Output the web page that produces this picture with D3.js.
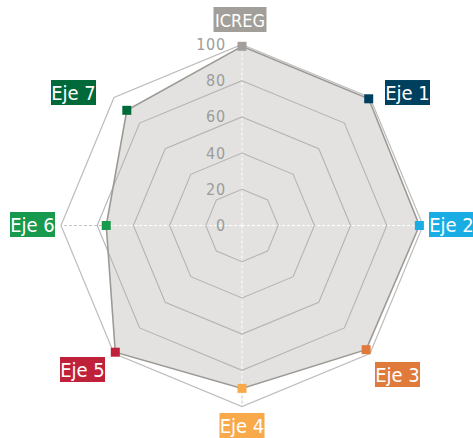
<!DOCTYPE html>
<html><head><meta charset="utf-8">
<script src="https://cdn.jsdelivr.net/npm/d3@7"></script>
<style>body{margin:0;background:#fff}svg{display:block}</style>
</head><body>
<svg id="c" width="473" height="438"></svg>
<script>
const axesLabels = ["ICREG","Eje 1","Eje 2","Eje 3","Eje 4","Eje 5","Eje 6","Eje 7"];
const values = [99, 99, 98, 97, 90, 99, 75, 90];
const axisColors = ["#a29f9a","#00405f","#19ade3","#e07a3b","#f8aa4b","#c0213a","#17994e","#00693a"];
const tickValues = [0, 20, 40, 60, 80, 100];

const svg = d3.select("#c");
const cx = 242, cy = 225.5, R = 181;
const font = "'Liberation Sans Narrow','DejaVu Sans Condensed','Open Sans',sans-serif";
const r = d3.scaleLinear().domain([0,100]).range([0,R]);
const ang = d3.scaleLinear().domain([0, axesLabels.length]).range([0, 2*Math.PI]);
const pt = (i, v) => [cx + r(v)*Math.sin(ang(i)), cy - r(v)*Math.cos(ang(i))];
const idx = d3.range(axesLabels.length);
const crossIdx = idx.filter(i => i % 2 === 0);
const ring = v => idx.map(i => pt(i, v));
const line = d3.line().curve(d3.curveLinearClosed);

// outer ring (100), under the data
svg.append("path").attr("d", line(ring(100))).attr("fill","none").attr("stroke","#bdbdbd").attr("stroke-width",1.2);
// cross axis lines (gray dashed)
svg.append("g").selectAll("line").data(crossIdx).join("line")
  .attr("x1",cx).attr("y1",cy).attr("x2",i=>pt(i,100)[0]).attr("y2",i=>pt(i,100)[1])
  .attr("stroke","#c4c4c4").attr("stroke-width",1).attr("stroke-dasharray","3,2");

// data polygon
const dataPts = idx.map(i => pt(i, values[i]));
svg.append("clipPath").attr("id","dc").append("path").attr("d", line(dataPts));
svg.append("path").attr("d", line(dataPts)).attr("fill","#e3e2e0").attr("stroke","none");
// white dashed axes inside fill
svg.append("g").attr("clip-path","url(#dc)").selectAll("line").data(crossIdx).join("line")
  .attr("x1",cx).attr("y1",cy).attr("x2",i=>pt(i,100)[0]).attr("y2",i=>pt(i,100)[1])
  .attr("stroke","#ffffff").attr("stroke-width",1).attr("stroke-dasharray","3,2");
// inner grid rings
svg.append("g").selectAll("path").data(tickValues.filter(v => v > 0 && v < 100)).join("path")
  .attr("d", v => line(ring(v))).attr("fill","none").attr("stroke","#b4b4b4").attr("stroke-width",1.1);
// data outline
svg.append("path").attr("d", line(dataPts)).attr("fill","none").attr("stroke","#9d9a96").attr("stroke-width",1.6);

// tick labels
svg.append("g").selectAll("text").data(tickValues).join("text")
  .attr("x", cx - 16).attr("y", v => cy - r(v)).attr("text-anchor","end").attr("dominant-baseline","central")
  .attr("font-family", font).attr("font-size", 16).attr("letter-spacing", 0.8).attr("fill","#9c9c9c")
  .text(v => v);

// markers
svg.append("g").selectAll("rect").data(idx).join("rect")
  .attr("x", i => pt(i, values[i])[0] - 4.5).attr("y", i => pt(i, values[i])[1] - 4.5)
  .attr("width", 9).attr("height", 9).attr("fill", i => axisColors[i]);

// axis labels (boxes)
const nudge = [[-2,-25],[37.5,-5],[28.5,-1],[27.5,21],[0,19],[-31.5,16],[-28.5,-1],[-40.5,-5]];
const lg = svg.append("g").selectAll("g").data(idx).join("g")
  .attr("transform", i => { const p = pt(i,100); return `translate(${p[0]+nudge[i][0]},${p[1]+nudge[i][1]})`; });
lg.append("rect").attr("x", i => i===0 ? -26.5 : -22.5).attr("y", -12.5)
  .attr("width", i => i===0 ? 53 : 45).attr("height", 25).attr("fill", i => axisColors[i]);
lg.append("text").attr("text-anchor","middle").attr("dominant-baseline","central").attr("y",0.5)
  .attr("font-family", font).attr("font-size", i => i===0 ? 18 : 20).attr("fill","#ffffff")
  .text(i => axesLabels[i]);
</script>
</body></html>
